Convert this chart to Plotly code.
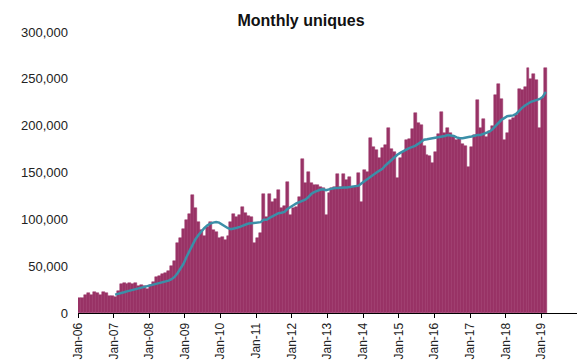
import numpy as np
import pandas as pd
import plotly.graph_objects as go

# Monthly unique visitors, Jan-06 .. Feb-19 (thousands)
uniques_k = [
    16, 16, 19, 21, 19, 22, 21, 19, 22, 21, 18, 18,          # 2006
    17, 23, 31, 32, 31, 32, 31, 32, 29, 30, 29, 26,          # 2007
    30, 33, 38, 40, 42, 43, 45, 50, 56, 75, 80, 90,          # 2008
    99, 106, 126, 112, 97, 89, 82, 92, 97, 89, 87, 80,       # 2009
    81, 78, 82, 97, 106, 103, 105, 113, 107, 104, 102, 75,   # 2010
    80, 85, 127, 103, 127, 118, 122, 131, 112, 114, 140, 105,  # 2011
    112, 113, 124, 164, 139, 151, 139, 137, 137, 135, 133, 105,  # 2012
    128, 133, 135, 148, 135, 148, 142, 145, 135, 135, 150, 119,  # 2013
    153, 151, 187, 177, 174, 165, 176, 179, 198, 175, 172, 144,  # 2014
    165, 172, 185, 186, 196, 213, 203, 201, 178, 169, 168, 160,  # 2015
    172, 191, 215, 192, 198, 192, 189, 185, 186, 180, 178, 156,  # 2016
    177, 190, 227, 197, 207, 188, 194, 200, 233, 245, 229, 185,  # 2017
    192, 206, 208, 211, 239, 238, 241, 262, 250, 255, 249, 197,  # 2018
    230, 262,                                                # 2019
]

# 12-month moving average line, Jan-07 .. Feb-19 (thousands)
moving_avg_k = [
    19.6, 20.2, 21.2, 22.1, 23.1, 23.9, 24.8, 25.9, 26.5, 27.3, 28.2, 28.7,
    29.7, 30.5, 31.0, 31.7, 32.6, 33.5, 34.6, 36.1, 38.5, 42.4, 47.1, 52.3,
    59.6, 66.3, 73.0, 78.5, 83.0, 87.0, 90.5, 93.5, 95.5, 96.5, 97.0, 96.5,
    94.5, 92.5, 90.5, 89.5, 90.0, 91.0, 92.0, 93.5, 94.5, 95.5, 96.0, 96.0,
    96.5, 97.0, 99.5, 99.5, 101.5, 103.0, 104.5, 106.5, 107.0, 108.0, 111.0, 113.5,
    115.0, 117.0, 118.5, 119.5, 121.0, 123.5, 127.0, 129.0, 130.5, 131.5, 132.0, 131.0,
    132.0, 133.0, 133.5, 133.5, 134.0, 134.0, 134.0, 134.5, 134.5, 135.0, 136.0, 138.5,
    141.0, 143.0, 145.5, 147.5, 150.0, 152.0, 154.0, 157.5, 160.5, 164.0, 166.5, 169.0,
    171.0, 173.0, 174.5, 176.0, 177.0, 178.5, 180.5, 183.0, 185.0, 185.5, 186.0, 186.5,
    187.0, 188.0, 188.5, 189.0, 190.0, 189.5, 189.0, 187.5, 186.5, 186.5, 187.5, 188.0,
    188.5, 189.5, 190.0, 190.0, 191.0, 192.5, 193.5, 196.0, 199.5, 203.0, 206.0, 208.0,
    210.0, 210.5, 211.0, 212.5, 216.0, 219.0, 221.5, 224.0, 225.5, 226.5, 227.5, 228.5,
    231.0, 236.0,
]

year_tick_labels = ["Jan-06", "Jan-07", "Jan-08", "Jan-09", "Jan-10", "Jan-11", "Jan-12",
                    "Jan-13", "Jan-14", "Jan-15", "Jan-16", "Jan-17", "Jan-18", "Jan-19"]

y_tick_values = [0, 50000, 100000, 150000, 200000, 250000, 300000]

uniques = np.array(uniques_k) * 1000
moving_avg = np.array(moving_avg_k) * 1000
n = len(uniques)
month_labels = pd.date_range("2006-01-01", periods=n, freq="MS").strftime("%b-%y")
x_months = np.arange(n)
x_ma = np.arange(n - len(moving_avg), n)

BAR_COLOR = "#993366"
LINE_COLOR = "#3B8FA8"
FONT = "Liberation Sans, Arial, sans-serif"

fig = go.Figure()
fig.add_trace(go.Bar(
    x=x_months, y=uniques, text=month_labels, hoverinfo="text+y", textposition="none",
    marker=dict(color=BAR_COLOR, line=dict(color=BAR_COLOR, width=0.5)),
    name="Monthly uniques",
))
fig.add_trace(go.Scatter(
    x=x_ma, y=moving_avg, mode="lines",
    line=dict(color=LINE_COLOR, width=2.5),
    name="12-month average",
))

tickvals = [12 * i - 0.5 for i in range(len(year_tick_labels) + 1)]
ticktext = year_tick_labels + [""]

# the page body adds an 8px offset, so the figure is sized 577x356
fig.update_layout(
    width=577, height=356,
    margin=dict(l=70, r=8, t=24, b=51, autoexpand=False),
    paper_bgcolor="white", plot_bgcolor="white",
    bargap=0, showlegend=False,
    font=dict(family=FONT, color="#1a1a1a"),
    title=dict(text="<b>Monthly uniques</b>", x=293 / 577, xanchor="center",
               y=1 - 12 / 356, yanchor="middle", yref="container",
               font=dict(size=16, family=FONT, color="#111")),
    xaxis=dict(range=[-0.5, 167.5], tickmode="array", tickvals=tickvals, ticktext=ticktext,
               tickangle=-90, ticks="outside", ticklen=4, tickcolor="black",
               showline=True, linecolor="black", linewidth=1, showgrid=False,
               zeroline=False, tickfont=dict(size=12, family=FONT, color="#222")),
    yaxis=dict(range=[0, 300000], tickmode="array", tickvals=y_tick_values,
               tickformat=",", showgrid=False, showline=False, zeroline=False,
               ticks="", ticklabelstandoff=9,
               tickfont=dict(size=13, family=FONT, color="#222")),
)

fig.write_html("out.html")
